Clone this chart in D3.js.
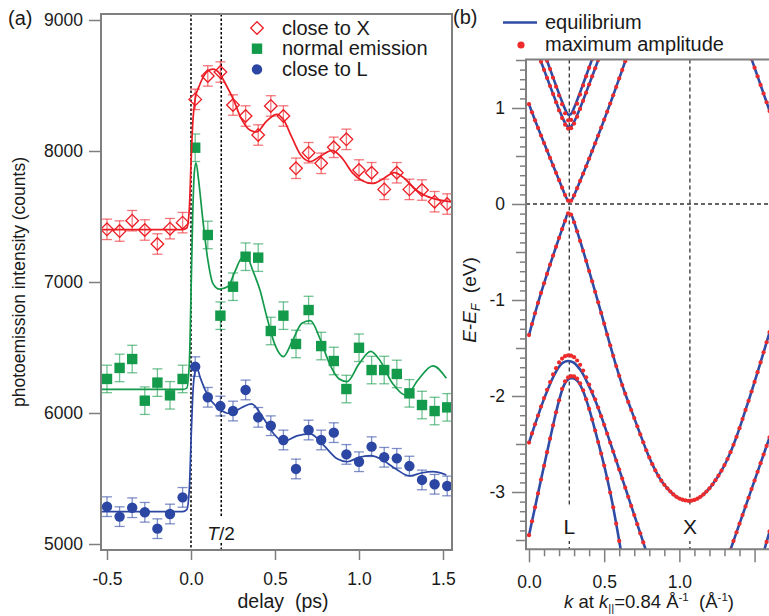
<!DOCTYPE html>
<html>
<head>
<meta charset="utf-8">
<script src="https://cdn.jsdelivr.net/npm/d3@7"></script>
<style>
  body { margin: 0; background: #fff; }
  svg { font-family: "Liberation Sans", Arial, sans-serif; }
</style>
</head>
<body>
<svg id="fig" width="769" height="616"></svg>
<script>
// ---------- panel (a) data ----------
var delays = [-0.5, -0.425, -0.35, -0.275, -0.2, -0.125, -0.05, 0.025, 0.1, 0.175, 0.25, 0.325, 0.4, 0.475,
              0.55, 0.625, 0.7, 0.775, 0.85, 0.925, 1.0, 1.075, 1.15, 1.225, 1.3, 1.375, 1.45, 1.525];
var closeX = [7402, 7389, 7468, 7397, 7290, 7407, 7453, 8394, 8573, 8603, 8351, 8267, 8122, 8344,
              8267, 7868, 7987, 7906, 8028, 8089, 7855, 7834, 7707, 7834, 7707, 7702, 7613, 7595];
var normalEm = [6260, 6344, 6412, 6094, 6232, 6135, 6260, 8025, 7359, 6743, 6964, 7193, 7186, 6626,
                6743, 6527, 6786, 6511, 6397, 6183, 6498, 6328, 6328, 6298, 6150, 6061, 6015, 6043];
var closeL = [5285, 5209, 5277, 5242, 5117, 5229, 5356, 6354, 6120, 6053, 6015, 6176, 5967, 5903,
              5794, 5573, 5870, 5794, 5850, 5684, 5628, 5743, 5662, 5654, 5595, 5489, 5456, 5443];
var errX = 78, errN = 105, errL = 75;

// fitted curves [delay, counts]
var fitX = [[-0.53,7400],[-0.05,7400],[-0.025,7412],[-0.01,7560],[0,7900],[0.01,8200],[0.025,8400],[0.05,8500],
  [0.1,8610],[0.13,8625],[0.17,8592],[0.2,8525],[0.25,8400],[0.3,8245],[0.35,8160],[0.39,8145],[0.45,8228],
  [0.51,8280],[0.55,8240],[0.6,8105],[0.65,7975],[0.71,7920],[0.77,7960],[0.84,8005],[0.9,7945],[0.96,7835],
  [1.02,7772],[1.08,7752],[1.14,7785],[1.21,7835],[1.27,7792],[1.33,7712],[1.39,7662],[1.45,7635],[1.55,7612]];
var fitN = [[-0.53,6180],[-0.05,6180],[-0.025,6190],[-0.01,6380],[0,6900],[0.01,7500],[0.02,7840],[0.03,7910],
  [0.045,7780],[0.07,7480],[0.1,7170],[0.13,6990],[0.17,6945],[0.22,6965],[0.26,7075],[0.3,7180],[0.33,7195],
  [0.37,7080],[0.41,6940],[0.45,6740],[0.5,6520],[0.55,6430],[0.6,6540],[0.66,6685],[0.71,6705],[0.77,6560],
  [0.82,6390],[0.88,6262],[0.93,6240],[1.0,6375],[1.07,6470],[1.12,6410],[1.2,6225],[1.28,6135],[1.35,6250],
  [1.44,6360],[1.52,6265]];
var fitL = [[-0.53,5247],[-0.05,5247],[-0.025,5262],[-0.01,5420],[0,5780],[0.01,6120],[0.02,6290],[0.035,6345],
  [0.055,6270],[0.1,6135],[0.17,6030],[0.23,5997],[0.3,6040],[0.36,6070],[0.43,5962],[0.49,5845],[0.55,5782],
  [0.63,5825],[0.71,5840],[0.79,5752],[0.87,5650],[0.93,5628],[1.0,5662],[1.07,5674],[1.14,5641],[1.22,5572],
  [1.3,5520],[1.37,5542],[1.44,5552],[1.52,5527]];
var halfPeriod = 0.18;

// ---------- panel (b) data: E (eV) on a k grid of 0.02 1/A ----------
var kStep = 0.02, kL = 0.268, kX = 1.07;
var coneUpper = [1.04,0.955,0.872,0.792,0.713,0.635,0.557,0.48,0.402,0.325,0.248,0.17,0.093,0.035,0.035,0.09,
  0.165,0.24,0.316,0.393,0.472,0.552,0.632,0.713,0.795,0.878,0.962,1.047,1.133,1.22,1.308,1.397,1.487,1.577];
var coneLowerX = [-1.365,-1.25,-1.138,-1.03,-0.926,-0.826,-0.728,-0.632,-0.538,-0.445,
  -0.353,-0.262,-0.175,-0.098,-0.11,-0.19,-0.285,-0.385,-0.487,-0.592,
  -0.698,-0.805,-0.914,-1.024,-1.135,-1.247,-1.36,-1.472,-1.582,-1.688,
  -1.79,-1.886,-1.976,-2.062,-2.146,-2.23,-2.315,-2.40,-2.483,-2.565,
  -2.64,-2.71,-2.775,-2.832,-2.882,-2.925,-2.962,-2.995,-3.025,-3.05,
  -3.068,-3.08,-3.088,-3.092,-3.09,-3.083,-3.07,-3.05,-3.025,-2.995,
  -2.962,-2.922,-2.877,-2.83,-2.778,-2.72,-2.656,-2.585,-2.508,-2.425,
  -2.335,-2.24,-2.145,-2.05,-1.953,-1.853,-1.752,-1.65,-1.545,-1.44,-1.335];
var condInnerEq  = [1.58,1.492,1.405,1.319,1.232,1.147,1.065,0.988,0.932,0.939,1.002,1.081,1.164,1.25,1.336,1.423,1.51,1.598];
var condInnerAmp = [1.58,1.492,1.405,1.315,1.222,1.13,1.04,0.945,0.872,0.876,0.952,1.045,1.14,1.235,1.33,1.42,1.51,1.598];
var condOuterEq  = [1.567,1.482,1.398,1.313,1.229,1.146,1.065,0.985,0.91,0.845,0.804,0.809,0.857,0.925,1.001,1.081,1.163,1.246,1.33,1.414,1.499,1.585];
var condOuterAmp = [1.567,1.482,1.398,1.313,1.229,1.145,1.06,0.975,0.895,0.826,0.786,0.79,0.838,0.91,0.99,1.075,1.16,1.245,1.33,1.414,1.499,1.585];
var valTopEq = [-2.485,-2.39,-2.295,-2.205,-2.115,-2.03,-1.95,-1.875,-1.805,-1.745,
  -1.695,-1.66,-1.642,-1.636,-1.64,-1.655,-1.685,-1.725,-1.775,-1.835,
  -1.9,-1.97,-2.045,-2.125,-2.21,-2.3,-2.392,-2.485,-2.578,-2.672,
  -2.766,-2.86,-2.955,-3.05,-3.145,-3.24,-3.335,-3.43,-3.525,-3.62];
var valTopAmp = [-2.485,-2.39,-2.295,-2.203,-2.11,-2.022,-1.935,-1.855,-1.775,-1.71,
  -1.65,-1.61,-1.585,-1.576,-1.58,-1.596,-1.63,-1.675,-1.735,-1.805,
  -1.88,-1.955,-2.035,-2.12,-2.21,-2.3,-2.392,-2.485,-2.578,-2.672,
  -2.766,-2.86,-2.955,-3.05,-3.145,-3.24,-3.335,-3.43,-3.525,-3.62];
var valLowEq = [-3.45,-3.305,-3.16,-3.015,-2.87,-2.727,-2.585,-2.445,-2.305,-2.17,
  -2.045,-1.94,-1.865,-1.828,-1.815,-1.818,-1.84,-1.885,-1.95,-2.035,
  -2.135,-2.245,-2.36,-2.48,-2.6,-2.725,-2.86,-3.005,-3.16,-3.33,-3.51,-3.695];
var valLowAmp = [-3.45,-3.305,-3.16,-3.015,-2.87,-2.727,-2.585,-2.445,-2.305,-2.17,
  -2.045,-1.925,-1.847,-1.806,-1.793,-1.796,-1.82,-1.868,-1.94,-2.035,
  -2.135,-2.245,-2.36,-2.48,-2.6,-2.725,-2.86,-3.005,-3.16,-3.33,-3.51,-3.695];
var bandTopRight = [1.51,1.42,1.33,1.24,1.15,1.06,0.97];
var bandLowRight = [-3.6,-3.51,-3.42,-3.33,-3.24,-3.15,-3.06,-2.97,-2.88,-2.79,-2.7,-2.61,-2.52,-2.43];
var bandCorner = [-3.63,-3.52,-3.41];

var gray = "#7f7f7f", ink = "#1a1a1a";
var svg = d3.select("#fig");

// =============== panel (a) ===============
var xa = d3.scaleLinear().domain([-0.5, 1.5]).range([107, 443]),
    ya = d3.scaleLinear().domain([5000, 9000]).range([544, 20]);

svg.append("clipPath").attr("id", "clipA")
  .append("rect").attr("x", 101).attr("y", 14).attr("width", 351).attr("height", 536);

svg.append("g").attr("transform", "translate(101,0)")
  .call(d3.axisLeft(ya).tickValues([5000, 6000, 7000, 8000, 9000]).tickSize(12).tickPadding(6).tickFormat(d3.format("d")))
  .call(function(g) {
    g.select(".domain").remove();
    g.selectAll(".tick line").attr("stroke", gray).attr("stroke-width", 1.5);
    g.selectAll(".tick text").attr("fill", ink).style("font-size", "17.5px").attr("font-family", null);
  });

svg.append("g").attr("transform", "translate(0,550)")
  .call(d3.axisBottom(xa).tickValues([-0.5, 0, 0.5, 1.0, 1.5]).tickSize(10).tickFormat(function(d) { return d.toFixed(1); }))
  .call(function(g) {
    g.select(".domain").remove();
    g.selectAll(".tick line").attr("stroke", gray).attr("stroke-width", 1.5);
    g.selectAll(".tick text").attr("fill", ink).attr("y", 35).attr("dy", null).style("font-size", "17.5px").attr("font-family", null);
  });

// dotted guide lines at 0 and T/2
svg.append("line").attr("x1", xa(0)).attr("x2", xa(0)).attr("y1", 14).attr("y2", 550)
  .attr("stroke", "#000").attr("stroke-width", 1.5).attr("stroke-dasharray", "2.5,2");
svg.append("line").attr("x1", xa(halfPeriod)).attr("x2", xa(halfPeriod)).attr("y1", 14).attr("y2", 516)
  .attr("stroke", "#000").attr("stroke-width", 1.5).attr("stroke-dasharray", "2.5,2");
svg.append("line").attr("x1", xa(halfPeriod)).attr("x2", xa(halfPeriod)).attr("y1", 543).attr("y2", 550)
  .attr("stroke", "#000").attr("stroke-width", 1.5).attr("stroke-dasharray", "2.5,2");

var seriesA = [
  {vals: closeL,   err: errL, fit: fitL, color: "#2b46a3", shape: "circle",  name: "close to L"},
  {vals: normalEm, err: errN, fit: fitN, color: "#139a4a", shape: "square",  name: "normal emission"},
  {vals: closeX,   err: errX, fit: fitX, color: "#ec1c24", shape: "diamond", name: "close to X"}
];

var fitLine = d3.line().x(function(d) { return xa(d[0]); }).y(function(d) { return ya(d[1]); })
  .curve(d3.curveMonotoneX);

function drawMarker(g, shape, color) {
  if (shape === "circle") g.append("circle").attr("r", 5.2).attr("fill", color);
  else if (shape === "square") g.append("rect").attr("x", -5.2).attr("y", -5.2).attr("width", 10.4).attr("height", 10.4).attr("fill", color);
  else g.append("path").attr("d", "M0,-6.3L6.3,0L0,6.3L-6.3,0Z").attr("fill", "none").attr("stroke", color).attr("stroke-width", 1.3);
}

var plotA = svg.append("g").attr("clip-path", "url(#clipA)");
seriesA.forEach(function(s) {
  var g = plotA.append("g");
  var pts = delays.map(function(t, i) { return {t: t, v: s.vals[i]}; });
  var eb = g.append("g").attr("stroke", s.color).attr("stroke-opacity", 0.6).attr("stroke-width", 1.3);
  eb.selectAll(".bar").data(pts).enter().append("line")
    .attr("x1", function(d) { return xa(d.t); }).attr("x2", function(d) { return xa(d.t); })
    .attr("y1", function(d) { return ya(d.v - s.err); }).attr("y2", function(d) { return ya(d.v + s.err); });
  [-1, 1].forEach(function(sg) {
    eb.selectAll(".cap" + sg).data(pts).enter().append("line")
      .attr("x1", function(d) { return xa(d.t) - 5; }).attr("x2", function(d) { return xa(d.t) + 5; })
      .attr("y1", function(d) { return ya(d.v + sg * s.err); }).attr("y2", function(d) { return ya(d.v + sg * s.err); });
  });
  g.append("path").attr("d", fitLine(s.fit)).attr("fill", "none").attr("stroke", s.color).attr("stroke-width", 1.7);
  pts.forEach(function(d) {
    drawMarker(g.append("g").attr("transform", "translate(" + xa(d.t) + "," + ya(d.v) + ")"), s.shape, s.color);
  });
});

svg.append("rect").attr("x", 101).attr("y", 14).attr("width", 351).attr("height", 536)
  .attr("fill", "none").attr("stroke", gray).attr("stroke-width", 2);

// legend (a)
var legA = svg.append("g");
seriesA.slice().reverse().forEach(function(s, i) {
  var y = 28 + i * 20.7;
  drawMarker(legA.append("g").attr("transform", "translate(257," + y + ")"), s.shape, s.color);
  legA.append("text").attr("x", 282).attr("y", y + 6.5).attr("fill", ink).style("font-size", "20px").text(s.name);
});

svg.append("text").attr("x", 221).attr("y", 540).attr("text-anchor", "middle").attr("fill", ink)
  .style("font-size", "19px")
  .call(function(t) {
    t.append("tspan").style("font-style", "italic").text("T");
    t.append("tspan").text("/2");
  });

svg.append("text").attr("x", 283).attr("y", 608).attr("text-anchor", "middle").attr("fill", ink)
  .style("font-size", "19.5px").style("white-space", "pre").text("delay  (ps)");
svg.append("text").attr("transform", "translate(25,282) rotate(-90)").attr("text-anchor", "middle").attr("fill", ink)
  .style("font-size", "17.5px").text("photoemission intensity (counts)");
svg.append("text").attr("x", 8).attr("y", 25).attr("fill", ink).style("font-size", "20px").text("(a)");

// =============== panel (b) ===============
var xb = d3.scaleLinear().domain([0, 1.6]).range([529, 769.6]),
    yb = d3.scaleLinear().domain([-3.6, 1.5]).range([549.6, 60]);
var bTop = 59.5, bBot = 549.3, bLeft = 526;

svg.append("clipPath").attr("id", "clipB")
  .append("rect").attr("x", bLeft).attr("y", bTop).attr("width", 769 - bLeft).attr("height", bBot - bTop);

function near(a, b) { return Math.abs(a - b) < 1e-6; }

svg.append("g").attr("transform", "translate(" + bLeft + ",0)")
  .call(d3.axisLeft(yb).tickValues(d3.range(-35, 16).map(function(i) { return i / 10; }))
    .tickFormat(function(d) { return near(d, Math.round(d)) ? String(Math.round(d)) : ""; }))
  .call(function(g) {
    g.select(".domain").remove();
    g.selectAll(".tick line").attr("stroke", gray).attr("stroke-width", 1.5)
      .attr("x2", function(d) { return near(d, Math.round(d)) ? -14 : (near(d * 2, Math.round(d * 2)) ? -10 : -6); });
    g.selectAll(".tick text").attr("x", -21).attr("fill", ink).style("font-size", "17.5px").attr("font-family", null);
  });

svg.append("g").attr("transform", "translate(0," + bBot + ")")
  .call(d3.axisBottom(xb).tickValues(d3.range(0, 16).map(function(i) { return i / 10; }))
    .tickFormat(function(d) { return (near(d, 0) || near(d, 0.5) || near(d, 1)) ? d.toFixed(1) : ""; }))
  .call(function(g) {
    g.select(".domain").remove();
    g.selectAll(".tick line").attr("stroke", gray).attr("stroke-width", 1.5)
      .attr("y2", function(d) { return near(d * 2, Math.round(d * 2)) ? 13 : 7; });
    g.selectAll(".tick text").attr("y", 38.5).attr("dy", null).attr("fill", ink).style("font-size", "17.5px").attr("font-family", null);
  });

var plotB = svg.append("g").attr("clip-path", "url(#clipB)");

// dashed guides
var dash = {stroke: "#333", w: 1.3, d: "4,3"};
plotB.append("line").attr("x1", bLeft).attr("x2", 769).attr("y1", yb(0)).attr("y2", yb(0))
  .attr("stroke", dash.stroke).attr("stroke-width", dash.w).attr("stroke-dasharray", dash.d);
[kL, kX].forEach(function(k) {
  plotB.append("line").attr("x1", xb(k)).attr("x2", xb(k)).attr("y1", bTop).attr("y2", 507)
    .attr("stroke", dash.stroke).attr("stroke-width", dash.w).attr("stroke-dasharray", dash.d);
  plotB.append("line").attr("x1", xb(k)).attr("x2", xb(k)).attr("y1", 541).attr("y2", bBot)
    .attr("stroke", dash.stroke).attr("stroke-width", dash.w).attr("stroke-dasharray", "3,3");
});

var bands = [
  {k0: 0,    eq: coneUpper},
  {k0: 0,    eq: coneLowerX},
  {k0: 0.10, eq: condInnerEq, amp: condInnerAmp},
  {k0: 0.06, eq: condOuterEq, amp: condOuterAmp},
  {k0: 0,    eq: valTopEq, amp: valTopAmp},
  {k0: 0,    eq: valLowEq, amp: valLowAmp},
  {k0: 1.48, eq: bandTopRight},
  {k0: 1.34, eq: bandLowRight},
  {k0: 1.56, eq: bandCorner}
];
function toPts(k0, arr) { return arr.map(function(e, i) { return [k0 + i * kStep, e]; }); }

var bandLine = d3.line().x(function(d) { return xb(d[0]); }).y(function(d) { return yb(d[1]); })
  .curve(d3.curveCatmullRom.alpha(0.5));
var blue = "#2e4ca6", red = "#ee2a2a";

bands.forEach(function(b) {
  plotB.append("path").attr("d", bandLine(toPts(b.k0, b.eq)))
    .attr("fill", "none").attr("stroke", blue).attr("stroke-width", 2.6);
});
bands.forEach(function(b) {
  plotB.append("g").selectAll("circle").data(toPts(b.k0, b.amp || b.eq)).enter().append("circle")
    .attr("cx", function(d) { return xb(d[0]); }).attr("cy", function(d) { return yb(d[1]); })
    .attr("r", 2.1).attr("fill", red);
});

svg.append("path").attr("d", "M769," + bTop + "H" + bLeft + "V" + bBot + "H769")
  .attr("fill", "none").attr("stroke", gray).attr("stroke-width", 2);

svg.append("text").attr("x", xb(kL)).attr("y", 534).attr("text-anchor", "middle").attr("fill", ink).style("font-size", "21px").text("L");
svg.append("text").attr("x", xb(kX)).attr("y", 534).attr("text-anchor", "middle").attr("fill", ink).style("font-size", "21px").text("X");

// legend (b)
svg.append("line").attr("x1", 503).attr("x2", 537).attr("y1", 22.5).attr("y2", 22.5).attr("stroke", blue).attr("stroke-width", 2.6);
svg.append("text").attr("x", 545).attr("y", 28.5).attr("fill", ink).style("font-size", "20px").text("equilibrium");
svg.append("circle").attr("cx", 521).attr("cy", 45).attr("r", 3.6).attr("fill", red);
svg.append("text").attr("x", 545).attr("y", 51).attr("fill", ink).style("font-size", "20px").text("maximum amplitude");
svg.append("text").attr("x", 453).attr("y", 24).attr("fill", ink).style("font-size", "20px").text("(b)");

// axis titles (b)
svg.append("text").attr("x", 649).attr("y", 608).attr("text-anchor", "middle").attr("fill", ink)
  .style("font-size", "18.5px").style("white-space", "pre")
  .call(function(t) {
    t.append("tspan").style("font-style", "italic").text("k");
    t.append("tspan").text(" at ");
    t.append("tspan").style("font-style", "italic").text("k");
    t.append("tspan").attr("dy", 4).style("font-size", "11.5px").text("||");
    t.append("tspan").attr("dy", -4).text("=0.84 \u00c5");
    t.append("tspan").attr("dy", -7).style("font-size", "11.5px").text("-1");
    t.append("tspan").attr("dy", 7).text("  (\u00c5");
    t.append("tspan").attr("dy", -7).style("font-size", "11.5px").text("-1");
    t.append("tspan").attr("dy", 7).text(")");
  });
svg.append("text").attr("transform", "translate(476,300) rotate(-90)").attr("text-anchor", "middle").attr("fill", ink)
  .style("font-size", "19px").style("white-space", "pre")
  .call(function(t) {
    t.append("tspan").style("font-style", "italic").text("E");
    t.append("tspan").text("-");
    t.append("tspan").style("font-style", "italic").text("E");
    t.append("tspan").attr("dy", 4).style("font-size", "12px").style("font-style", "italic").text("F");
    t.append("tspan").attr("dy", -4).text("  (eV)");
  });
</script>
</body>
</html>
